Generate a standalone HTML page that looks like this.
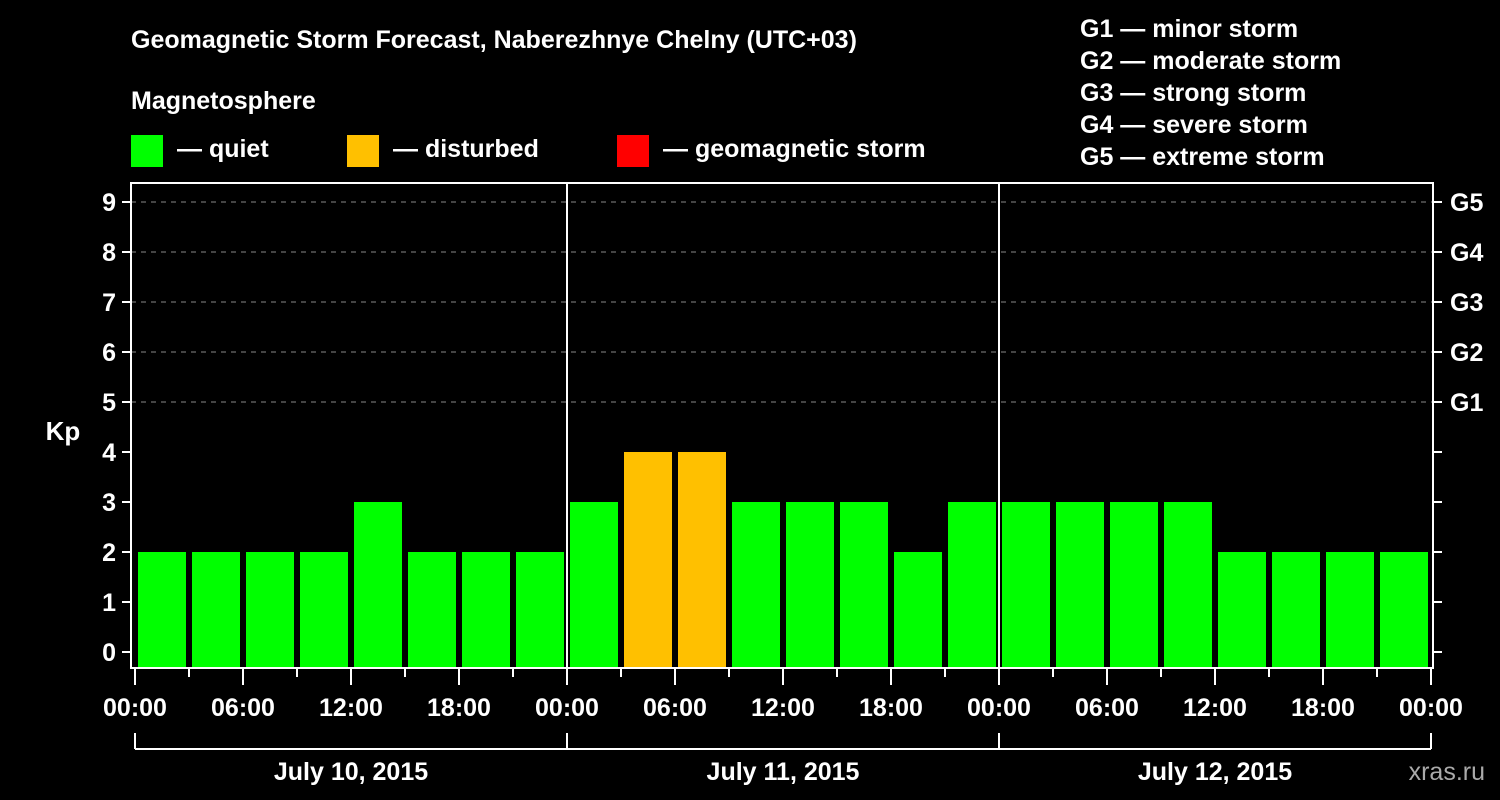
<!DOCTYPE html>
<html><head><meta charset="utf-8"><style>
html,body{margin:0;padding:0;background:#000;width:1500px;height:800px;overflow:hidden}
svg text{font-family:"Liberation Sans",Arial,sans-serif;font-weight:bold;fill:#fff}
</style></head><body>
<svg id="chart" width="1500" height="800" xmlns="http://www.w3.org/2000/svg">
<text x="131" y="48" font-size="25">Geomagnetic Storm Forecast, Naberezhnye Chelny (UTC+03)</text>
<text x="131" y="109" font-size="25">Magnetosphere</text>
<g><rect x="131" y="135" width="32" height="32" fill="#00ff00"/><text x="177" y="157" font-size="25">— quiet</text></g>
<g><rect x="347" y="135" width="32" height="32" fill="#ffc000"/><text x="393" y="157" font-size="25">— disturbed</text></g>
<g><rect x="617" y="135" width="32" height="32" fill="#ff0000"/><text x="663" y="157" font-size="25">— geomagnetic storm</text></g>
<g font-size="25">
<text x="1080" y="37">G1 — minor storm</text>
<text x="1080" y="69">G2 — moderate storm</text>
<text x="1080" y="101">G3 — strong storm</text>
<text x="1080" y="133">G4 — severe storm</text>
<text x="1080" y="165">G5 — extreme storm</text>
</g>
<text x="63" y="440" font-size="26" text-anchor="middle">Kp</text>
<g id="grid"></g><g id="bars"></g><g id="axes"></g>
<text x="1485" y="780" font-size="25" text-anchor="end" fill="#aaa" style="fill:#aaa;font-weight:normal">xras.ru</text>
</svg>
<script>
const days = ["July 10, 2015","July 11, 2015","July 12, 2015"];
const kpValues = [2,2,2,2,3,2,2,2, 3,4,4,3,3,3,2,3, 3,3,3,3,2,2,2,2];
const yTicks = [0,1,2,3,4,5,6,7,8,9];
const gLabels = ["G1","G2","G3","G4","G5"];
const hourLabels = ["00:00","06:00","12:00","18:00"];
const NS="http://www.w3.org/2000/svg";
const L=131,R=1433,T=183,B=668,X0=135,dayW=432;
const y=v=>652-v*50;
const x=h=>X0+h*(dayW/24);
function el(t,a,p){const e=document.createElementNS(NS,t);for(const k in a)e.setAttribute(k,a[k]);p.appendChild(e);return e;}
const grid=document.getElementById('grid'),bars=document.getElementById('bars'),axes=document.getElementById('axes');
[5,6,7,8,9].forEach(v=>{const g=el('line',{x1:L,x2:R,y1:y(v),y2:y(v),stroke:'#888','stroke-dasharray':'5,5','stroke-width':1},grid);

});
kpValues.forEach((v,i)=>{const c=v>=5?'#ff0000':(v>=4?'#ffc000':'#00ff00');
const b=el('rect',{x:x(i*3)+3,y:y(v),width:48,height:B-y(v),fill:c},bars);

});
const box=el('rect',{x:L,y:T,width:R-L,height:B-T,fill:'none',stroke:'#fff','stroke-width':2},axes);


for(let d=1;d<days.length;d++){const s=el('line',{x1:x(d*24),x2:x(d*24),y1:T,y2:B,stroke:'#fff','stroke-width':2},axes);

}
yTicks.forEach(v=>{el('line',{x1:122,x2:L,y1:y(v),y2:y(v),stroke:'#fff','stroke-width':2},axes);
el('line',{x1:R,x2:1442,y1:y(v),y2:y(v),stroke:'#fff','stroke-width':2},axes);
const t=el('text',{x:116,y:y(v)+9,'font-size':25,'text-anchor':'end'},axes);t.textContent=v;

});
gLabels.forEach((g,i)=>{const t=el('text',{x:1450,y:y(5+i)+9,'font-size':25},axes);t.textContent=g;

});
for(let h=0;h<=days.length*24;h+=3){const major=h%6===0;
el('line',{x1:x(h),x2:x(h),y1:B,y2:major?685:677,stroke:'#fff','stroke-width':2},axes);
if(major){const t=el('text',{x:x(h),y:716,'font-size':25,'text-anchor':'middle'},axes);t.textContent=hourLabels[(h/6)%4];

}}
el('line',{x1:x(0),x2:x(72),y1:749,y2:749,stroke:'#fff','stroke-width':2},axes);
for(let d=0;d<=days.length;d++)el('line',{x1:x(d*24),x2:x(d*24),y1:733,y2:749,stroke:'#fff','stroke-width':2},axes);
days.forEach((d,i)=>{const t=el('text',{x:x(i*24+12),y:780,'font-size':25,'text-anchor':'middle'},axes);t.textContent=d;

});
</script>
</body></html>
